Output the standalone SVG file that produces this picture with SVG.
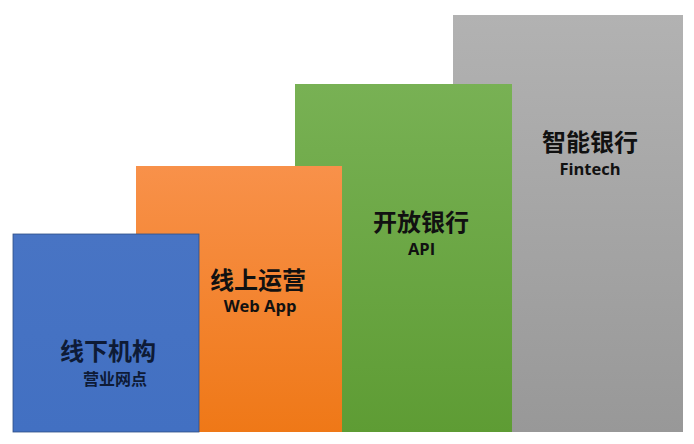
<svg xmlns="http://www.w3.org/2000/svg" width="694" height="444" viewBox="0 0 694 444">
<defs>
<linearGradient id="gGray" x1="0" y1="0" x2="0" y2="1"><stop offset="0" stop-color="#B2B2B2"/><stop offset="1" stop-color="#989898"/></linearGradient>
<linearGradient id="gGreen" x1="0" y1="0" x2="0" y2="1"><stop offset="0" stop-color="#78B154"/><stop offset="1" stop-color="#5E9C34"/></linearGradient>
<linearGradient id="gOrange" x1="0" y1="0" x2="0" y2="1"><stop offset="0" stop-color="#F8914A"/><stop offset="1" stop-color="#EF7817"/></linearGradient>
<linearGradient id="gBlue" x1="0" y1="0" x2="0" y2="1"><stop offset="0" stop-color="#4874C4"/><stop offset="1" stop-color="#4270C2"/></linearGradient>
</defs>
<style>
.zh{font-family:"Noto Sans CJK SC","Noto Sans",sans-serif;font-weight:bold;text-anchor:middle;}
.big{font-size:24px;}
.sm{font-size:16px;}
.en{font-family:"Open Sans","DejaVu Sans",sans-serif;font-weight:bold;font-size:16.5px;text-anchor:middle;}
.dark{fill:#111111;}
.navy{fill:#0E1B36;}
</style>
<rect width="694" height="444" fill="#FFFFFF"/>
<g id="node-fintech">
<rect x="453" y="15" width="230" height="417" fill="url(#gGray)"/>
<text class="zh big dark" x="590" y="151">智能银行</text>
<text class="en dark" x="590" y="174.5">Fintech</text>
</g>
<g id="node-api">
<rect x="295" y="84" width="217" height="348" fill="url(#gGreen)"/>
<text class="zh big dark" x="421" y="231">开放银行</text>
<text class="en dark" x="421.5" y="254.5">API</text>
</g>
<g id="node-webapp">
<rect x="136" y="166" width="206" height="266" fill="url(#gOrange)"/>
<text class="zh big dark" x="258" y="289">线上运营</text>
<text class="en dark" x="260" y="312">Web App</text>
</g>
<g id="node-offline">
<rect x="13" y="234" width="186" height="198" fill="url(#gBlue)" stroke="#2F4F86" stroke-width="0.8"/>
<text class="zh big navy" x="108" y="360">线下机构</text>
<text class="zh sm navy" x="115" y="385">营业网点</text>
</g>
<g id="connectors"></g>
</svg>
